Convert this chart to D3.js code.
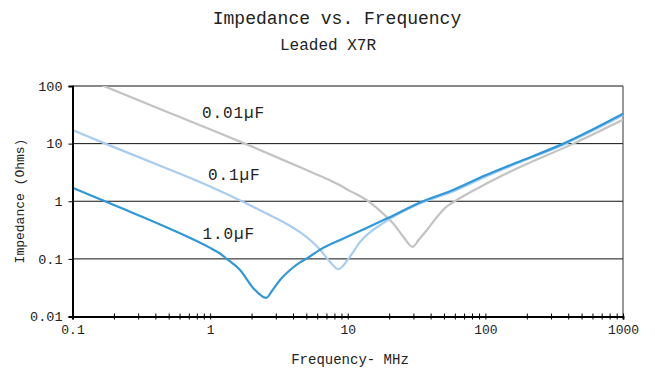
<!DOCTYPE html>
<html><head><meta charset="utf-8">
<script src="https://cdn.jsdelivr.net/npm/d3@7/dist/d3.min.js"></script>
<style>
html,body{margin:0;padding:0;background:#fff;}
svg{display:block;}
text{font-family:"Courier New","Liberation Mono",monospace;fill:#222;}
</style></head>
<body><svg id="c" width="655" height="369"></svg>
<script>
// ---- data (frequency in MHz, impedance in Ohms) ----
const seriesNames = ["0.01µF", "0.1µF", "1.0µF"];
const freq001 = [0.1, 0.169, 0.604, 0.845, 1.79, 5, 7.43, 8.8, 10.4, 12.5, 14.5, 18.2, 21.4, 25.4, 29.6, 32.6, 37.5, 44.4, 52, 60, 91.6, 169, 436, 1000];
const z001    = [170, 100, 28.9, 20.8, 10, 3.49, 2.31, 1.89, 1.5, 1.2, 0.96, 0.6, 0.41, 0.24, 0.161, 0.21, 0.314, 0.53, 0.8, 1.0, 1.77, 3.69, 10, 26];
const freq01  = [0.1, 0.173, 0.5, 1.0, 1.7, 2.5, 3.5, 4.5, 6.2, 7.43, 8.55, 10.1, 12.3, 19.2, 33.5, 55, 100, 169, 369, 1000];
const z01     = [17.2, 10, 3.6, 1.8, 1.0, 0.63, 0.42, 0.29, 0.15, 0.089, 0.066, 0.1, 0.197, 0.456, 0.91, 1.4, 2.65, 4.5, 9.6, 31];
const freq1   = [0.1, 0.2, 0.5, 1.0, 1.18, 1.32, 1.65, 2.06, 2.55, 2.85, 3.22, 3.81, 4.5, 4.98, 6.3, 10, 19.2, 35.2, 55.3, 100, 169, 369, 1000];
const z1      = [1.72, 0.86, 0.34, 0.155, 0.124, 0.1, 0.064, 0.031, 0.021, 0.029, 0.043, 0.064, 0.087, 0.1, 0.145, 0.244, 0.5, 1.0, 1.49, 2.82, 4.69, 10, 33];
const xTickLabels = ["0.1", "1", "10", "100", "1000"];
const yTickLabels = ["0.01", "0.1", "1", "10", "100"];
const colors = ["#c3c3c3", "#a9cdef", "#2e98d8"];

const svg = d3.select("#c");
const x = d3.scaleLog().domain([0.1, 1000]).range([72.5, 623]);
const y = d3.scaleLog().domain([0.01, 100]).range([316.5, 86]);

// titles
svg.append("text").attr("x", 337).attr("y", 24).attr("text-anchor", "middle")
  .style("font-size", "18px").text("Impedance vs. Frequency");
svg.append("text").attr("x", 328).attr("y", 50).attr("text-anchor", "middle")
  .style("font-size", "16px").text("Leaded X7R");

// gridlines
const yVals = yTickLabels.map(Number);
svg.append("g").selectAll("line").data(yVals.filter(v => v > 0.01)).join("line")
  .attr("x1", x(0.1)).attr("x2", x(1000))
  .attr("y1", d => y(d)).attr("y2", d => y(d))
  .attr("stroke", "#111").attr("stroke-width", 1);
// right border
svg.append("line").attr("x1", x(1000)).attr("x2", x(1000)).attr("y1", y(100)).attr("y2", y(0.01))
  .attr("stroke", "#333").attr("stroke-width", 1);

// clip
svg.append("clipPath").attr("id", "clip").append("rect")
  .attr("x", x(0.1)).attr("y", y(100)).attr("width", x(1000) - x(0.1)).attr("height", y(0.01) - y(100));

const line = d3.line().x(d => x(d[0])).y(d => y(d[1])).curve(d3.curveMonotoneX);
const series = [
  {name: seriesNames[0], f: freq001, z: z001, c: colors[0]},
  {name: seriesNames[1], f: freq01, z: z01, c: colors[1]},
  {name: seriesNames[2], f: freq1, z: z1, c: colors[2]}
];
const gl = svg.append("g").attr("clip-path", "url(#clip)");
series.forEach(s => {
  gl.append("path").datum(s.f.map((f, i) => [f, s.z[i]]))
    .attr("d", line).attr("fill", "none").attr("stroke", s.c)
    .attr("stroke-width", 2.2).attr("stroke-linejoin", "round");
});

// series labels
const labelPos = [[202, 118.3], [208, 180], [202.5, 239.3]];
seriesNames.forEach((n, i) => {
  svg.append("text").attr("x", labelPos[i][0]).attr("y", labelPos[i][1])
    .style("font-size", "16px").style("letter-spacing", "0.9px").text(n);
});

// x axis
const xTicks = [];
[0.1, 1, 10, 100].forEach(d => { for (let k = 1; k < 10; k++) xTicks.push(+(d * k).toPrecision(3)); });
xTicks.push(1000);
const xAxis = d3.axisBottom(x).tickValues(xTicks)
  .tickFormat(d => xTickLabels.includes(String(d)) ? String(d) : "")
  .tickSize(3).tickPadding(0);
const gx = svg.append("g").attr("transform", `translate(0,${y(0.01)})`).call(xAxis);
gx.select(".domain").attr("stroke", "#000").attr("stroke-width", 2);
gx.selectAll(".tick line").attr("y1", -3).attr("y2", 3).attr("stroke", "#000");
gx.selectAll(".tick text").attr("y", 17).attr("dy", "0")
  .style("font-size", "13px").style("font-family", "\"Courier New\",\"Liberation Mono\",monospace").attr("fill", "#222");

// y axis
const yAxis = d3.axisLeft(y).tickValues(yVals).tickFormat((d, i) => yTickLabels[i])
  .tickSize(4).tickPadding(6);
const gy = svg.append("g").attr("transform", `translate(${x(0.1)},0)`).call(yAxis);
gy.select(".domain").attr("stroke", "#000").attr("stroke-width", 2);
gy.selectAll(".tick line").attr("stroke", "#000");
gy.selectAll(".tick text").style("font-size", "13.5px")
  .style("font-family", "\"Courier New\",\"Liberation Mono\",monospace").attr("fill", "#222");

// axis titles
svg.append("text").attr("x", 350).attr("y", 364).attr("text-anchor", "middle")
  .style("font-size", "14px").text("Frequency- MHz");
svg.append("text").attr("transform", "translate(24,201) rotate(-90)").attr("text-anchor", "middle")
  .style("font-size", "13px").text("Impedance (Ohms)");
</script></body></html>
